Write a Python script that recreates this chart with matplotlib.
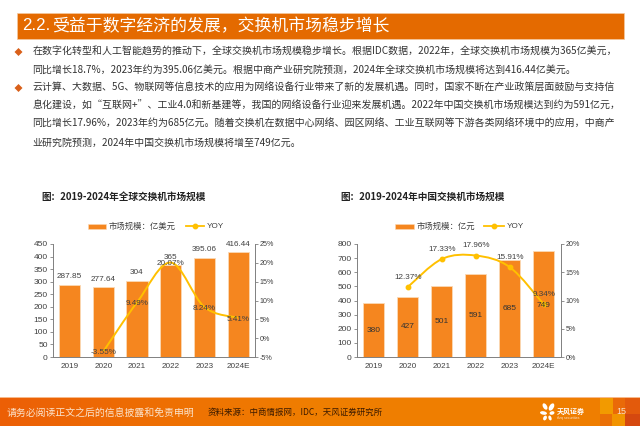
import numpy as np
import matplotlib
matplotlib.use("Agg")
import matplotlib.pyplot as plt
from matplotlib.colors import LinearSegmentedColormap
from matplotlib.patches import Rectangle, PathPatch, Polygon, Ellipse
from matplotlib.path import Path

plt.rcParams["font.family"] = ["Noto Sans CJK SC", "DejaVu Sans"]

W, H = 640, 426
ORANGE = "#F5861F"
LINE = "#FFC000"
TICK = "#404040"
LATIN = ["Liberation Sans"]

years = ["2019", "2020", "2021", "2022", "2023", "2024E"]

global_size = [287.85, 277.64, 304, 365, 395.06, 416.44]
global_size_labels = ["287.85", "277.64", "304", "365", "395.06", "416.44"]
global_yoy = [-3.55, 9.49, 20.07, 8.24, 5.41]
global_yoy_labels = ["-3.55%", "9.49%", "20.07%", "8.24%", "5.41%"]
global_ticks = [0, 50, 100, 150, 200, 250, 300, 350, 400, 450]
global_yoy_ticks = [-5, 0, 5, 10, 15, 20, 25]

china_size = [380, 427, 501, 591, 685, 749]
china_yoy = [12.37, 17.33, 17.96, 15.91, 9.34]
china_yoy_labels = ["12.37%", "17.33%", "17.96%", "15.91%", "9.34%"]
china_ticks = [0, 100, 200, 300, 400, 500, 600, 700, 800]
china_yoy_ticks = [0, 5, 10, 15, 20]

body_lines = [
    "在数字化转型和人工智能趋势的推动下，全球交换机市场规模稳步增长。根据IDC数据，2022年，全球交换机市场规模为365亿美元，",
    "同比增长18.7%，2023年约为395.06亿美元。根据中商产业研究院预测，2024年全球交换机市场规模将达到416.44亿美元。",
    "云计算、大数据、5G、物联网等信息技术的应用为网络设备行业带来了新的发展机遇。同时，国家不断在产业政策层面鼓励与支持信",
    "息化建设，如“互联网+”、工业4.0和新基建等，我国的网络设备行业迎来发展机遇。2022年中国交换机市场规模达到约为591亿元，",
    "同比增长17.96%，2023年约为685亿元。随着交换机在数据中心网络、园区网络、工业互联网等下游各类网络环境中的应用，中商产",
    "业研究院预测，2024年中国交换机市场规模将增至749亿元。",
]
body_y = [52, 70, 88, 106, 124, 143]


def px_axes(fig, x0, y0, x1, y1):
    return fig.add_axes([x0 / W, 1 - y1 / H, (x1 - x0) / W, (y1 - y0) / H])


def smooth_path(xs, ys):
    # 平滑折線，控制點由資料點算出
    verts = [(xs[0], ys[0])]
    codes = [Path.MOVETO]
    n = len(xs)
    for i in range(n - 1):
        p0 = (xs[max(i - 1, 0)], ys[max(i - 1, 0)])
        p1 = (xs[i], ys[i])
        p2 = (xs[i + 1], ys[i + 1])
        p3 = (xs[min(i + 2, n - 1)], ys[min(i + 2, n - 1)])
        c1 = (p1[0] + (p2[0] - p0[0]) / 6, p1[1] + (p2[1] - p0[1]) / 6)
        c2 = (p2[0] - (p3[0] - p1[0]) / 6, p2[1] - (p3[1] - p1[1]) / 6)
        verts += [c1, c2, p2]
        codes += [Path.CURVE4] * 3
    return Path(verts, codes)


def draw_chart(fig, box, sizes, ticks, yoy, yoy_ticks, size_labels, inside, markers):
    ax = px_axes(fig, *box)
    ax.patch.set_visible(False)
    x = np.arange(len(sizes))
    ax.bar(x, sizes, width=0.63, color=ORANGE, edgecolor="#FBD9B5", linewidth=0.6, zorder=2)
    ax.set_xlim(-0.5, 5.5)
    ax.set_ylim(ticks[0], ticks[-1])
    ax.set_xticks(x)
    ax.set_xticklabels(years, fontsize=5.9, color=TICK, family=LATIN)
    ax.set_yticks(ticks)
    ax.set_yticklabels([str(t) for t in ticks], fontsize=6.0, color=TICK, family=LATIN)
    ax.tick_params(axis="x", length=0, pad=4.2)
    ax.tick_params(axis="y", length=2, width=0.6, color="#808080", pad=1.5)

    ax2 = ax.twinx()
    ax2.set_ylim(yoy_ticks[0], yoy_ticks[-1])
    ax2.set_yticks(yoy_ticks)
    ax2.set_yticklabels([f"{t}%" for t in yoy_ticks], fontsize=5.1, color=TICK, family=LATIN)
    ax2.tick_params(axis="y", length=2, width=0.6, color="#808080", pad=1.5)
    for a in (ax, ax2):
        a.spines["top"].set_visible(False)
        for side in ("left", "right", "bottom"):
            a.spines[side].set_color("#808080")
            a.spines[side].set_linewidth(0.6)

    xl = x[1:]
    ax2.add_patch(PathPatch(smooth_path(xl, yoy), fill=False, edgecolor=LINE, linewidth=1.4, zorder=3))
    if markers:
        ax2.plot(xl, yoy, "o", color=LINE, markersize=3.2, zorder=4)

    # 數字標在 ax2 上，才會壓過折線
    for i, v in enumerate(sizes):
        if inside:
            ax2.text(i, v / 2 if i < 5 else 368, size_labels[i], ha="center", va="center", fontsize=6.0,
                     color="#333333", family=LATIN, zorder=6, transform=ax.transData)
        else:
            ax2.annotate(size_labels[i], (i, v), xycoords=ax.transData, xytext=(0, 3.3),
                         textcoords="offset points", ha="center", va="bottom", fontsize=5.9,
                         color="#404040", family=LATIN, zorder=6, annotation_clip=False)
    return ax, ax2, xl


fig = plt.figure(figsize=(W / 100, H / 100), dpi=100, facecolor="white")

bg = fig.add_axes([0, 0, 1, 1])
bg.set_xlim(0, W)
bg.set_ylim(H, 0)
bg.axis("off")

# 標題列
bg.add_patch(Rectangle((16.5, 12.5), 607, 26.5, facecolor="#E46A00", edgecolor="#F5C9A0", linewidth=0.5))
bg.text(22.5, 26, "2.2.", color="white", fontsize=12.2, va="center", ha="left", family=LATIN)
bg.text(52, 26, "受益于数字经济的发展，交换机市场稳步增长", color="white", fontsize=12.15,
        va="center", ha="left")

# 內文
for line, y in zip(body_lines, body_y):
    bg.text(32.3, y, line, fontsize=7.17, color="#333333", va="center", ha="left")
for y in (52, 88):
    bg.add_patch(Polygon([(14.5, y), (18.5, y - 4), (22.5, y), (18.5, y + 4)], facecolor="#D9601A", edgecolor="none"))

# 圖標題
bg.text(41.7, 196.7, "图：2019-2024年全球交换机市场规模", fontsize=6.95, color="#222222", weight="bold", va="center")
bg.text(340.3, 196.7, "图：2019-2024年中国交换机市场规模", fontsize=6.95, color="#222222", weight="bold", va="center")

# 左圖
ax1, ax1b, xl1 = draw_chart(fig, (52.7, 244, 255, 357), global_size, global_ticks, global_yoy,
                            global_yoy_ticks, global_size_labels, False, False)
for xv, v, s in zip(xl1, global_yoy, global_yoy_labels):
    ax1b.annotate(s, (xv, v), xytext=(0, -1), textcoords="offset points", ha="center", va="center",
                  fontsize=5.9, color="#404040", family=LATIN, zorder=7, annotation_clip=False)

# 右圖
ax2, ax2b, xl2 = draw_chart(fig, (356.7, 244, 560.7, 357), china_size, china_ticks, china_yoy,
                            china_yoy_ticks, [str(v) for v in china_size], True, True)
for xv, v, s in zip(xl2, china_yoy, china_yoy_labels):
    ax2b.annotate(s, (xv, v), xytext=(0, 4.5), textcoords="offset points", ha="center", va="bottom",
                  fontsize=5.9, color="#404040", family=LATIN, zorder=7, annotation_clip=False)

# 圖例
for x0, x1, tx, lx0, lx1, label in [(87.7, 106, 108.7, 185.7, 204, "市场规模：亿美元"),
                                    (395, 414, 416.7, 484, 504, "市场规模：亿元")]:
    bg.add_patch(Rectangle((x0, 223.5), x1 - x0, 5, facecolor=ORANGE, edgecolor="#FBD9B5", linewidth=0.4))
    bg.text(tx, 226, label, fontsize=6.0, color="#404040", va="center")
    bg.plot([lx0, lx1], [226, 226], color=LINE, linewidth=1.3)
    bg.plot([(lx0 + lx1) / 2], [226], "o", color=LINE, markersize=3.2)
    bg.text(lx1 + 2.5, 226, "YOY", fontsize=5.9, color="#404040", va="center", family=LATIN)

# 頁尾
grad = np.linspace(0, 1, 256).reshape(1, -1)
cmap = LinearSegmentedColormap.from_list("foot", ["#EC5F06", "#F07F00", "#EF7E00"])
bg.imshow(grad, extent=(0, W, 426, 397.5), aspect="auto", cmap=cmap, zorder=1)
bg.add_patch(Rectangle((0, 396.8), W, 0.9, facecolor="#F7B98A", edgecolor="none", zorder=2))
bg.set_xlim(0, W)
bg.set_ylim(H, 0)
bg.text(6.5, 412.7, "请务必阅读正文之后的信息披露和免责申明", fontsize=7.15, color="#FBE3CC", va="center", zorder=3)
bg.text(208, 412.7, "资料来源：中商情报网，IDC，天风证券研究所", fontsize=6.1, color="#3A1A00", va="center",
        weight="medium", zorder=3)
bg.text(557, 411, "天风证券", fontsize=5.0, color="white", va="center", weight="bold", zorder=3)
bg.text(557, 417.5, "tfzq securities", fontsize=2.6, color="#FBE3CC", va="center", family=LATIN, zorder=3)
for cx, cy, w, h, ang in [(545, 406.5, 4, 7, -30), (551.5, 407, 4.5, 8, 30), (543.5, 413, 7, 3.5, 10),
                          (552, 413, 5, 3.5, -15), (545, 418, 3.5, 5, 25), (550, 418, 3, 5, -20)]:
    bg.add_patch(Ellipse((cx, cy), w, h, angle=ang, facecolor="white", edgecolor="none", zorder=3))
# 右下角色塊
for x0, y0, w, h, c in [(600, 397.5, 13, 16.5, "#F29A00"), (613, 397.5, 12, 16.5, "#EA6A08"),
                        (625, 397.5, 15, 16.5, "#E35A0C"), (600, 414, 12, 12, "#EA7006"),
                        (612, 414, 13, 12, "#F29400"), (625, 414, 15, 12, "#D5480F")]:
    bg.add_patch(Rectangle((x0, y0), w, h, facecolor=c, edgecolor="none", zorder=2))
bg.text(621, 412, "15", fontsize=6.5, color="#FBE3CC", ha="center", va="center", family=LATIN, zorder=3)

fig.savefig("out.png", dpi=100)
